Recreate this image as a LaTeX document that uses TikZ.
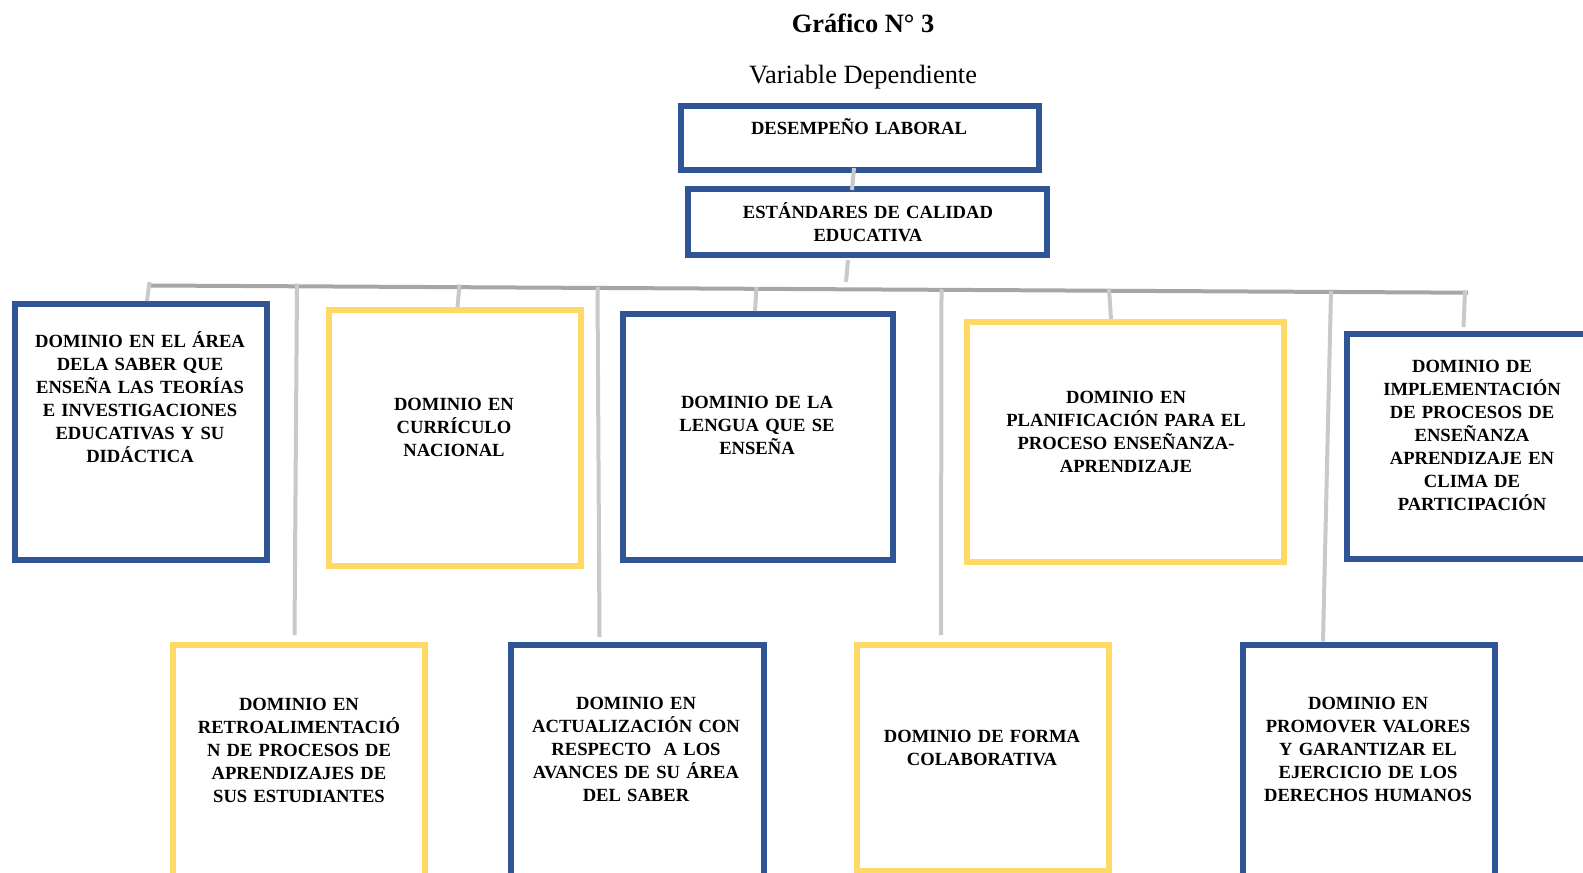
\documentclass[tikz,border=0pt]{standalone}
\usepackage{fontspec}
\setmainfont{Liberation Serif}
\definecolor{boxblue}{HTML}{2F5597}
\definecolor{boxyellow}{HTML}{FFD966}
\definecolor{bargray}{HTML}{A6A6A6}
\definecolor{stubgray}{HTML}{C9C9C9}
\tikzset{
  frame/.style={draw, line width=3pt, inner sep=0pt, outer sep=0pt, fill=white},
  bluebox/.style={frame, draw=boxblue},
  yellowbox/.style={frame, draw=boxyellow},
  boxtext/.style={anchor=base, inner sep=0pt, text width=150pt, align=center,
    font=\fontsize{9.3}{11.5}\selectfont\bfseries},
  bar/.style={draw=bargray, line width=2pt},
  stub/.style={draw=stubgray, line width=2pt},
}
\begin{document}
\begin{tikzpicture}[x=0.5pt,y=-0.5pt]
\useasboundingbox (0,0) rectangle (1583,872);
\clip (0,0) rectangle (1583,872);
\fill[white] (0,0) rectangle (1583,872);

% titles
\node[anchor=base, inner sep=0pt, font=\fontsize{13.2}{16}\selectfont\bfseries] (title) at (863,32.7) {Gráfico N° 3};
\node[anchor=base, inner sep=0pt, font=\fontsize{13.2}{16}\selectfont] (subtitle) at (863,83.3) {Variable Dependiente};

% boxes
\node[bluebox, minimum width=179pt, minimum height=32pt] (T1) at (860,138) {};
\node[bluebox, minimum width=179.5pt, minimum height=33pt] (T2) at (867.5,222) {};
\node[bluebox, minimum width=126pt, minimum height=128pt] (A) at (141,432) {};
\node[yellowbox, minimum width=126pt, minimum height=128pt] (B) at (455,438) {};
\node[bluebox, minimum width=135pt, minimum height=123pt] (C) at (758,437) {};
\node[yellowbox, minimum width=158.5pt, minimum height=120pt] (D) at (1125.5,442) {};
\node[bluebox, minimum width=125pt, minimum height=112.5pt] (E) at (1472,446.5) {};
\node[yellowbox, minimum width=126pt, minimum height=130pt] (F) at (299,775) {};
\node[bluebox, minimum width=126.5pt, minimum height=130pt] (G) at (637.5,775) {};
\node[yellowbox, minimum width=126pt, minimum height=113pt] (H) at (983,758) {};
\node[bluebox, minimum width=126pt, minimum height=130pt] (I) at (1369,775) {};

% texts
\node[boxtext] (tT1) at (859,134) {DESEMPEÑO LABORAL};
\node[boxtext] (tT2) at (868,218.5) {ESTÁNDARES DE CALIDAD\\EDUCATIVA};
\node[boxtext] (tA) at (140,347) {DOMINIO EN EL ÁREA\\DELA SABER QUE\\ENSEÑA LAS TEORÍAS\\E INVESTIGACIONES\\EDUCATIVAS Y SU\\DIDÁCTICA};
\node[boxtext] (tB) at (454,410) {DOMINIO EN\\CURRÍCULO\\NACIONAL};
\node[boxtext] (tC) at (757,408) {DOMINIO DE LA\\LENGUA QUE SE\\ENSEÑA};
\node[boxtext] (tD) at (1126,403) {DOMINIO EN\\PLANIFICACIÓN PARA EL\\PROCESO ENSEÑANZA-\\APRENDIZAJE};
\node[boxtext] (tE) at (1472,372) {DOMINIO DE\\IMPLEMENTACIÓN\\DE PROCESOS DE\\ENSEÑANZA\\APRENDIZAJE EN\\CLIMA DE\\PARTICIPACIÓN};
\node[boxtext] (tF) at (299,710) {DOMINIO EN\\RETROALIMENTACIÓ\\N DE PROCESOS DE\\APRENDIZAJES DE\\SUS ESTUDIANTES};
\node[boxtext] (tG) at (636,709) {DOMINIO EN\\ACTUALIZACIÓN CON\\RESPECTO\ \ A LOS\\AVANCES DE SU ÁREA\\DEL SABER};
\node[boxtext] (tH) at (982,742) {DOMINIO DE FORMA\\COLABORATIVA};
\node[boxtext] (tI) at (1368,709) {DOMINIO EN\\PROMOVER VALORES\\Y GARANTIZAR EL\\EJERCICIO DE LOS\\DERECHOS HUMANOS};

% connector coordinates
\coordinate (barL) at (151,285.5);
\coordinate (barR) at (1468,292.7);
\coordinate (s0) at (846,282);
\coordinate (sA) at (149.5,282);
\coordinate (sB) at (459.5,284.5);
\coordinate (sC) at (756.5,287);
\coordinate (sD) at (1109,289);
\coordinate (sE) at (1465,290.5);
\coordinate (l1t) at (297,283.5);  \coordinate (l1b) at (294.5,635);
\coordinate (l2t) at (597.5,287);  \coordinate (l2b) at (599.5,637);
\coordinate (l3t) at (941.5,289);  \coordinate (l3b) at (941,635);
\coordinate (l4t) at (1331,291);   \coordinate (l4b) at (1323,641.5);

% connectors
\draw[stub] ([shift={(-6,-2)}]T1.south) -- ([shift={(-15.5,1)}]T2.north);
\draw[stub] ([shift={(-19.5,5)}]T2.south) -- (s0);
\draw[bar] (barL) -- (barR);
\draw[stub] (sA) -- ([shift={(6,-3)}]A.north);
\draw[stub] (sB) -- ([shift={(2.5,-3)}]B.north);
\draw[stub] (sC) -- ([shift={(-3,-3)}]C.north);
\draw[stub] (sD) -- ([shift={(-14.5,-3)}]D.north);
\draw[stub] (sE) -- ([shift={(-8.5,-7)}]E.north);
\draw[stub] (l1t) -- (l1b);
\draw[stub] (l2t) -- (l2b);
\draw[stub] (l3t) -- (l3b);
\draw[stub] (l4t) -- (l4b);
\end{tikzpicture}
\end{document}
